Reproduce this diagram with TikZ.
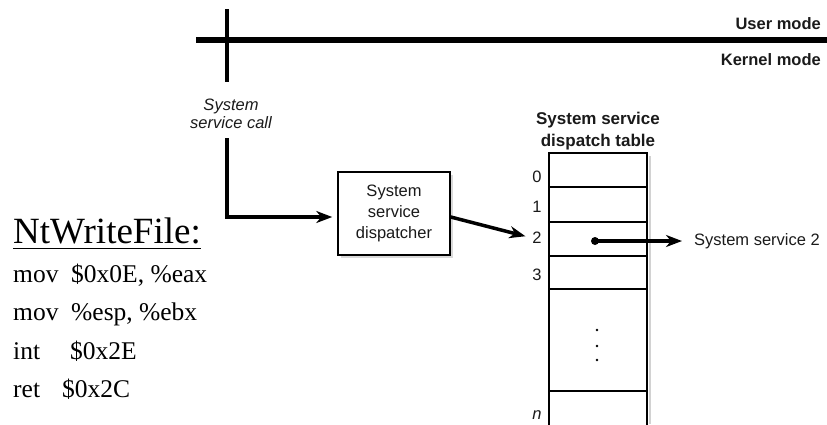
\documentclass[tikz,border=0pt]{standalone}
\usepackage{fontspec}
\setmainfont{Liberation Serif}
\newfontfamily\arialf{Liberation Sans}
\usetikzlibrary{arrows.meta}
\definecolor{ink}{HTML}{1A1A1A}
\begin{document}
\begin{tikzpicture}[x=1pt,y=-1pt,
  lbl/.style={font=\arialf\fontsize{16.5}{21}\selectfont, text=ink, inner sep=0pt},
  modelbl/.style={font=\arialf\bfseries\fontsize{16.5}{20}\selectfont, text=ink, inner sep=0pt, anchor=east},
  cell/.style={draw, line width=1.8pt, minimum width=98pt, inner sep=0pt, outer sep=0pt, anchor=north west},
  arr/.style={line width=3.5pt, -{Stealth[length=16pt,width=12pt,inset=5pt]}},
  code/.style={anchor=base west, inner sep=0pt, font=\fontsize{25.5}{28}\selectfont}
]
\useasboundingbox (0,0) rectangle (827,424);

% mode boundary
\draw[line width=6pt] (196,40) -- (827,40);
\draw[line width=4.5pt] (227,9) -- (227,82);
\node[modelbl] (um) at (821,24) {User mode};
\node[modelbl] (km) at (821,60) {Kernel mode};

% system service call
\node[font=\arialf\itshape\fontsize{16.5}{18}\selectfont, text=ink, align=center, inner sep=0pt] (call) at (231,114) {System\\service call};
\coordinate (cs) at (227,138);

% dispatcher
\fill[gray!30] (341,175) rectangle (453,258);
\node[lbl, draw, line width=1.5pt, fill=white, align=center, minimum width=112pt, minimum height=83pt] (disp) at (394,213.5) {System\\service\\dispatcher};

\draw[line width=4pt, -{Stealth[length=16pt,width=12pt,inset=5pt]}, shorten >=5pt] (cs) |- ([yshift=-3.5pt]disp.west);

% dispatch table
\node[font=\arialf\bfseries\fontsize{17}{22}\selectfont, text=ink, align=center, inner sep=0pt] (hdr) at (598,131) {System service\\dispatch table};
\draw[gray!35, line width=2pt] (649.5,156) -- (649.5,424);
\node[cell, minimum height=34pt] (r0) at (549,153) {};
\node[cell, minimum height=35pt] (r1) at (r0.south west) {};
\node[cell, minimum height=34pt] (r2) at (r1.south west) {};
\node[cell, minimum height=33pt] (r3) at (r2.south west) {};
\node[cell, minimum height=102pt] (rd) at (r3.south west) {};
\node[cell, minimum height=40pt] (rn) at (rd.south west) {};

\foreach \yy in {330,346,360} \fill (597,\yy) circle (1.3);

\node[lbl] (l0) at (537,177) {0};
\node[lbl] (l1) at (537,207) {1};
\node[lbl] (l2) at (537,238) {2};
\node[lbl] (l3) at (537,275) {3};
\node[lbl, font=\arialf\itshape\fontsize{16.5}{21}\selectfont] (ln) at (537,415) {n};

\draw[arr, shorten >=7pt] ([yshift=-3.5pt]disp.east) -- (l2.west);

\node[circle, fill, inner sep=0pt, minimum size=8pt] (dot) at (595,241) {};
\node[lbl, anchor=west] (svc2) at (694,241) {System service 2};
\draw[arr, shorten >=12pt] (dot.center) -- (svc2.west);

% code
\node[anchor=base west, inner sep=0pt, font=\fontsize{37}{40}\selectfont] (nt) at (13,243) {NtWriteFile:};
\draw[line width=1.5pt] ([yshift=-5.5pt]nt.base west) -- ([yshift=-5.5pt]nt.base east);
\node[code] (c1) at (13,282) {\makebox[58pt][l]{mov}\$0x0E, \%eax};
\node[code] (c2) at (13,320) {\makebox[58pt][l]{mov}\%esp, \%ebx};
\node[code] (c3) at (13,359) {\makebox[57pt][l]{int}\$0x2E};
\node[code] (c4) at (13,397) {\makebox[49pt][l]{ret}\$0x2C};
\end{tikzpicture}
\end{document}
